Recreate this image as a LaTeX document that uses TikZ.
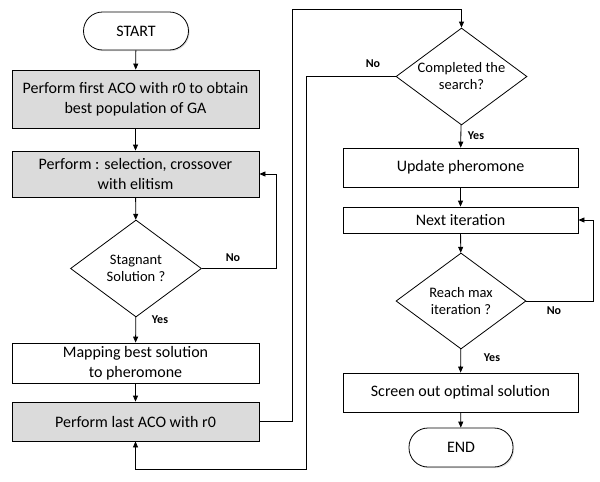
\documentclass[tikz,border=0pt]{standalone}
\usepackage{fontspec}
\setmainfont{Carlito}
\usetikzlibrary{shapes.geometric,arrows.meta,shadows}
\begin{document}
\begin{tikzpicture}[x=1pt,y=-1pt]
    \tikzset{box/.style = {shape=rectangle,draw,line width=0.8pt,align=center,font=\fontsize{16}{20}\selectfont,inner sep=2pt,
        drop shadow={opacity=0.25,shadow xshift=1.2pt,shadow yshift=-1.2pt}}}
    \tikzset{graybox/.style = {box,fill=black!14}}
    \tikzset{whitebox/.style = {box,fill=white}}
    \tikzset{term/.style = {box,fill=white,rounded corners=19pt}}
    \tikzset{decision/.style = {shape=diamond,draw,line width=0.8pt,fill=white,aspect=1.35,inner sep=0pt,align=center,font=\fontsize{14.5}{17}\selectfont}}
    \tikzset{arrow/.style = {line width=0.8pt,-{Triangle[length=6pt,width=5pt]}}}
    \tikzset{answer/.style = {font=\fontsize{12}{14}\selectfont\bfseries}}
    \useasboundingbox (0,0) rectangle (600,482);
    % left column
    \node[term,minimum width=105pt,minimum height=38pt] (start) at (136,31) {START};
    \node[graybox,minimum width=247pt,minimum height=58pt] (aco1) at (135.5,99) {Perform first ACO with r0 to obtain\\best population of GA};
    \node[graybox,minimum width=247pt,minimum height=46pt] (ga) at (135.5,174) {Perform : selection, crossover\\with elitism};
    \node[decision,minimum width=131pt,minimum height=97pt] (stag) at (136,268.5) {Stagnant\\Solution ?};
    \node[whitebox,minimum width=247pt,minimum height=40pt] (map) at (135.5,363) {Mapping best solution\\to pheromone};
    \node[graybox,minimum width=247pt,minimum height=39pt] (last) at (135.5,421.5) {Perform last ACO with r0};
    % right column
    \node[decision,minimum width=131pt,minimum height=97pt] (done) at (461.5,76.5) {Completed the\\search?};
    \node[whitebox,minimum width=235pt,minimum height=39pt] (upd) at (460.5,167.5) {Update pheromone};
    \node[whitebox,minimum width=235pt,minimum height=26pt] (next) at (460.5,220) {Next iteration};
    \node[decision,minimum width=130pt,minimum height=96pt] (reach) at (461,301) {Reach max\\iteration ?};
    \node[whitebox,minimum width=235pt,minimum height=39pt] (screen) at (460.5,392.5) {Screen out optimal solution};
    \node[term,minimum width=104pt,minimum height=39pt] (end) at (461,447.5) {END};
    % turning points
    \coordinate (top) at (292,9);
    \coordinate (bottom) at (306,469);
    % edges
    \draw[arrow] (start) -- (aco1);
    \draw[arrow] (aco1) -- (ga);
    \draw[arrow] (ga) -- (stag);
    \draw[arrow] (stag) -- (map);
    \draw[arrow] (map) -- (last);
    \draw[arrow] (stag.east) -- ++(74,0) |- (ga.east);
    \draw[arrow] (last.east) -| (top) -| (done.north);
    \draw[arrow] (done) -- (upd);
    \draw[arrow] (done.west) -| (bottom) -| (last.south);
    \draw[arrow] (upd) -- (next);
    \draw[arrow] (next) -- (reach);
    \draw[arrow] (reach.east) -- ++(67,0) |- (next.east);
    \draw[arrow] (reach) -- (screen);
    \draw[arrow] (screen) -- (end);
    % labels
    \node[answer] (no1) at (233,258) {No};
    \node[answer] (yes1) at (160,320) {Yes};
    \node[answer] (no2) at (373,64) {No};
    \node[answer] (yes2) at (476,136) {Yes};
    \node[answer] (no3) at (554,311) {No};
    \node[answer] (yes3) at (492,358) {Yes};
\end{tikzpicture}
\end{document}
